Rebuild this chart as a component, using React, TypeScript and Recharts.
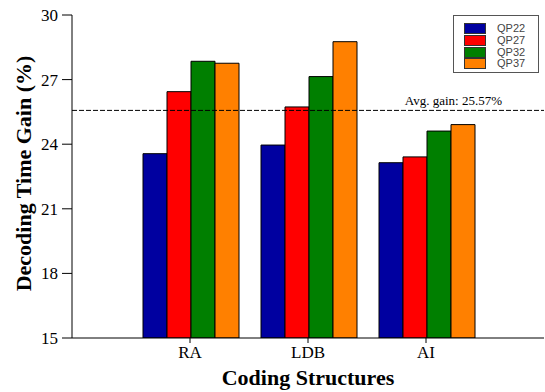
import React from 'react';
import { BarChart, Bar, XAxis, YAxis, ReferenceLine, Label } from 'recharts';

const categories = ['RA', 'LDB', 'AI'];
const qp22 = [23.56, 23.96, 23.14];
const qp27 = [26.44, 25.73, 23.41];
const qp32 = [27.85, 27.14, 24.61];
const qp37 = [27.76, 28.76, 24.91];
const seriesNames = ['QP22', 'QP27', 'QP32', 'QP37'];
const seriesColors = ['#0000A0', '#FF0000', '#007F00', '#FF8000'];
const yTicks = [15, 18, 21, 24, 27, 30];
const avgGain = 25.57;

const data = categories.map((c, i) => ({
  name: c,
  QP22: qp22[i],
  QP27: qp27[i],
  QP32: qp32[i],
  QP37: qp37[i],
}));

const serif = '"Liberation Serif", "Times New Roman", serif';

const LegendBox = () => (
  <div
    style={{
      position: 'absolute',
      left: 453,
      top: 15,
      width: 86,
      height: 58,
      border: '1px solid #555',
      background: '#fff',
      boxSizing: 'border-box',
      paddingTop: 7,
      paddingLeft: 10,
    }}
  >
    {seriesNames.map((n, i) => (
      <div key={n} style={{ display: 'flex', alignItems: 'center', height: 11.7 }}>
        <div
          style={{
            width: 22,
            height: 11,
            background: seriesColors[i],
            border: '1px solid #333',
            boxSizing: 'border-box',
          }}
        />
        <span
          style={{
            marginLeft: 11,
            fontFamily: '"Liberation Sans", Arial, sans-serif',
            fontSize: 11,
            color: '#444',
            lineHeight: '11px',
          }}
        >
          {n}
        </span>
      </div>
    ))}
  </div>
);

export default function App() {
  return (
    <div style={{ position: 'absolute', left: 0, top: 0, width: 545, height: 392, background: '#fff' }}>
      <BarChart
        width={545}
        height={392}
        data={data}
        margin={{ top: 15, right: 1, bottom: 0, left: 0 }}
        barCategoryGap={12}
        barGap={0}
      >
        <XAxis
          dataKey="name"
          padding={{ left: 59, right: 59 }}
          height={54}
          stroke="#000"
          tickSize={5}
          tickMargin={3}
          tick={{ fill: '#000', fontFamily: serif, fontSize: 17 }}
          tickLine={{ stroke: '#000' }}
        >
          <Label
            content={(props: any) => {
              const vb = props.viewBox || {};
              return (
                <text
                  x={vb.x + vb.width / 2}
                  y={vb.y + 47}
                  textAnchor="middle"
                  fontFamily={serif}
                  fontSize={22}
                  fontWeight="bold"
                  fill="#000"
                >
                  Coding Structures
                </text>
              );
            }}
          />
        </XAxis>
        <YAxis
          domain={[15, 30]}
          ticks={yTicks}
          width={72}
          stroke="#000"
          tickSize={10}
          tickMargin={4}
          tick={{ fill: '#000', fontFamily: serif, fontSize: 17 }}
          tickLine={{ stroke: '#000' }}
          allowDataOverflow
        >
          <Label
            content={(props: any) => {
              const vb = props.viewBox || {};
              const cx = 31;
              const cy = vb.y + vb.height / 2 - 3;
              return (
                <text
                  x={cx}
                  y={cy}
                  transform={`rotate(-90 ${cx} ${cy})`}
                  textAnchor="middle"
                  fontFamily={serif}
                  fontSize={22}
                  fontWeight="bold"
                  fill="#000"
                >
                  Decoding Time Gain (%)
                </text>
              );
            }}
          />
        </YAxis>
        {seriesNames.map((n, i) => (
          <Bar
            key={n}
            dataKey={n}
            fill={seriesColors[i]}
            stroke="#000"
            strokeWidth={1}
            isAnimationActive={false}
          />
        ))}
        <ReferenceLine
          y={avgGain}
          stroke="#000"
          strokeDasharray="5 2"
          label={(props: any) => {
            const vb = props.viewBox || {};
            return (
              <text
                x={vb.x + vb.width - 42}
                y={vb.y - 5}
                textAnchor="end"
                fontFamily={serif}
                fontSize={13}
                fill="#000"
              >
                {`Avg. gain: ${avgGain}%`}
              </text>
            );
          }}
        />
      </BarChart>
      <LegendBox />
    </div>
  );
}
